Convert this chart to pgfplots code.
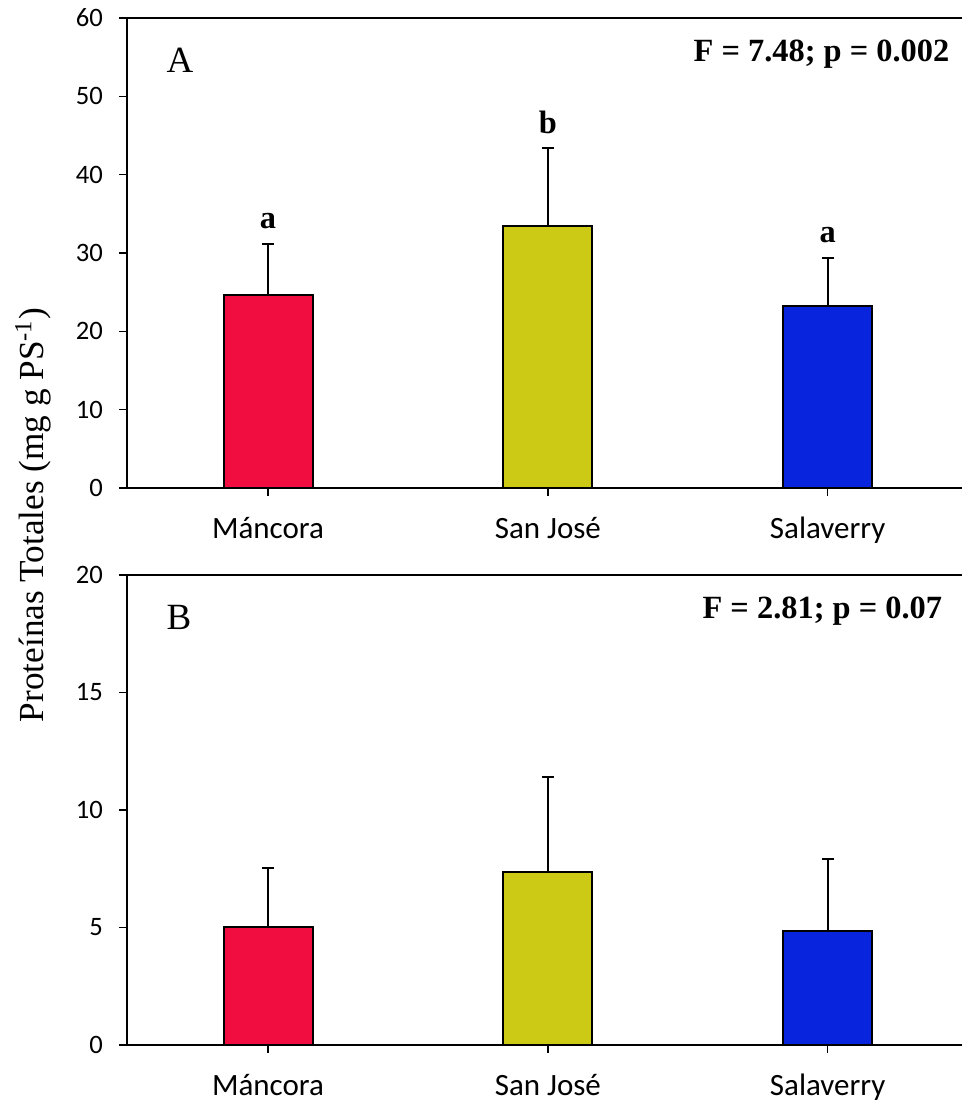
\documentclass[border=0pt]{standalone}
\usepackage{fontspec}
\setmainfont{Carlito}
\newfontfamily\tnr{Liberation Serif}
\usepackage{pgfplots}
\pgfplotsset{compat=1.18}
\definecolor{cred}{RGB}{242,13,64}
\definecolor{colive}{RGB}{204,202,20}
\definecolor{cblue}{RGB}{8,36,220}
\pgfplotsset{
  panel/.style={
    scale only axis, width=417.5pt, height=235pt,
    anchor=south west,
    xmin=-0.504, xmax=2.48,
    axis x line=box, axis y line=left,
    axis line style={-, line width=1pt},
    xtick={0,1,2}, xticklabels={Máncora, San José, Salaverry},
    xtick pos=left,
    tick align=outside, major tick length=4pt,
    tick style={line width=0.8pt, black},
    /pgf/number format/assume math mode=true,
    yticklabel={\pgfmathprintnumber{\tick}},
    yticklabel style={font=\fontsize{13.3}{15}\selectfont, xshift=-4.5pt},
    xticklabel style={font=\fontsize{15.5}{18}\selectfont, yshift=-7pt},
    ybar, bar width=0.318, bar shift=0pt,
    every axis plot/.append style={draw=black, line width=1pt,
      error bars/y dir=plus, error bars/y explicit,
      error bars/error bar style={line width=1pt, black},
      error bars/error mark options={line width=1pt, mark size=3pt, black, rotate=90}},
    clip=false,
  },
}
\tikzset{
  ann/.style={font=\tnr\bfseries\fontsize{16.2}{19}\selectfont, anchor=base, inner sep=0pt},
  lab/.style={font=\tnr\fontsize{18.5}{21}\selectfont, anchor=base west, inner sep=0pt},
}
\begin{document}
\begin{tikzpicture}
\begin{axis}[panel, at={(0pt,0pt)}, ymin=0, ymax=60, ytick={0,10,...,60}]
\addplot[fill=cred] coordinates {(0,24.6) +- (0,6.55)};
\addplot[fill=colive] coordinates {(1,33.4) +- (0,10.0)};
\addplot[fill=cblue] coordinates {(2,23.2) +- (0,6.2)};
\node[ann] at (axis cs:0,33.07) {a};
\node[ann] at (axis cs:1,45.3) {b};
\node[ann] at (axis cs:2,31.3) {a};
\node[lab] at (axis cs:-0.364,52.98) {A};
\node[ann, anchor=base east] at (axis cs:2.436,54.5) {F = 7.48; p = 0.002};
\end{axis}
\begin{axis}[panel, at={(0pt,-278.5pt)}, ymin=0, ymax=20, ytick={0,5,...,20}]
\addplot[fill=cred] coordinates {(0,5.02) +- (0,2.53)};
\addplot[fill=colive] coordinates {(1,7.36) +- (0,4.04)};
\addplot[fill=cblue] coordinates {(2,4.85) +- (0,3.06)};
\node[lab] at (axis cs:-0.364,17.66) {B};
\node[ann, anchor=base east] at (axis cs:2.41,18.17) {F = 2.81; p = 0.07};
\end{axis}
\node[rotate=90, anchor=base, inner sep=0pt, font=\tnr\fontsize{17.6}{20}\selectfont] at (-41.5pt,-13.5pt) {Proteínas Totales (mg g PS\textsuperscript{-1})};
\pgfresetboundingbox
\useasboundingbox (-63.5pt,-307.5pt) rectangle (417.5pt,244pt);
\end{tikzpicture}
\end{document}
